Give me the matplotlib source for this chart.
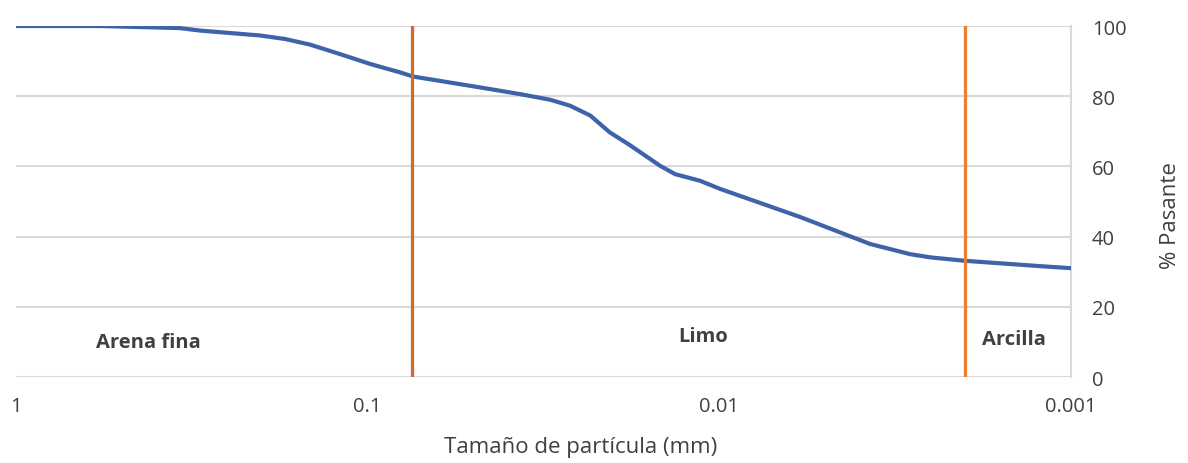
import matplotlib.pyplot as plt
from matplotlib.ticker import FixedLocator, FixedFormatter

plt.rcParams['font.family'] = ['Open Sans', 'DejaVu Sans']

# particle size (mm) and percent passing
size_mm = [1.0, 0.577, 0.342, 0.2998, 0.2024, 0.1718, 0.1459, 0.1199, 0.0985,
           0.0810, 0.0743, 0.0479, 0.0369, 0.0303, 0.0266, 0.0233, 0.0205,
           0.0180, 0.01476, 0.01337, 0.01135, 0.00996, 0.0059, 0.00373,
           0.00287, 0.00252, 0.0020, 0.00123, 0.001]
passing = [100.0, 100.0, 99.4, 98.7, 97.3, 96.3, 94.7, 92.0, 89.2,
           86.8, 85.6, 82.5, 80.6, 79.0, 77.3, 74.5, 69.7,
           66.1, 60.2, 57.8, 55.9, 53.6, 45.6, 37.9,
           35.0, 34.1, 33.1, 31.6, 31.0]

limits_mm = [0.075, 0.002]
limit_colors = ['#D4692A', '#ED7D31']

zone_names = ['Arena fina', 'Limo', 'Arcilla']
zone_x = [0.42, 0.0111, 0.00145]
zone_y = [10.0, 11.7, 10.8]

x_ticks = [1, 0.1, 0.01, 0.001]
x_tick_labels = ['1', '0.1', '0.01', '0.001']
y_ticks = [0, 20, 40, 60, 80, 100]

fig = plt.figure(figsize=(11.88, 4.64), dpi=100)
ax = fig.add_axes([0.01347, 0.1853, 0.8882, 0.7565])

ax.set_xscale('log')
ax.set_xlim(1, 0.001)
ax.set_ylim(0, 100)

for y in y_ticks:
    ax.axhline(y, color='#D9D9D9', lw=1.5, zorder=1)

ax.plot(size_mm, passing, color='#3F63A9', lw=3.0, zorder=3,
        solid_capstyle='round', solid_joinstyle='round')

for xv, c in zip(limits_mm, limit_colors):
    ax.plot([xv, xv], [0, 100], color=c, lw=2.3, zorder=4)

for name, xv, yv in zip(zone_names, zone_x, zone_y):
    ax.text(xv, yv, name, ha='center', va='center', fontsize=14.5,
            fontweight='bold', color='#404040')

ax.xaxis.set_major_locator(FixedLocator(x_ticks))
ax.xaxis.set_major_formatter(FixedFormatter(x_tick_labels))
ax.xaxis.set_minor_locator(FixedLocator([]))
ax.set_yticks(y_ticks)
ax.yaxis.tick_right()
ax.yaxis.set_label_position('right')
ax.tick_params(axis='both', length=0, labelsize=14.5, labelcolor='#404040')
ax.tick_params(axis='x', pad=14)
ax.tick_params(axis='y', pad=15)

for side in ['top', 'left', 'bottom']:
    ax.spines[side].set_visible(False)
ax.spines['right'].set_color('#D9D9D9')
ax.spines['right'].set_linewidth(1.5)

ax.set_xlabel('Tamaño de partícula (mm)', fontsize=16, color='#404040',
              va='center', ha='center')
ax.xaxis.set_label_coords(0.535, -0.197)
ax.set_ylabel('% Pasante', fontsize=16, color='#404040',
              va='center', ha='center')
ax.yaxis.set_label_coords(1.094, 0.464)

fig.savefig('out.png', dpi=100)
